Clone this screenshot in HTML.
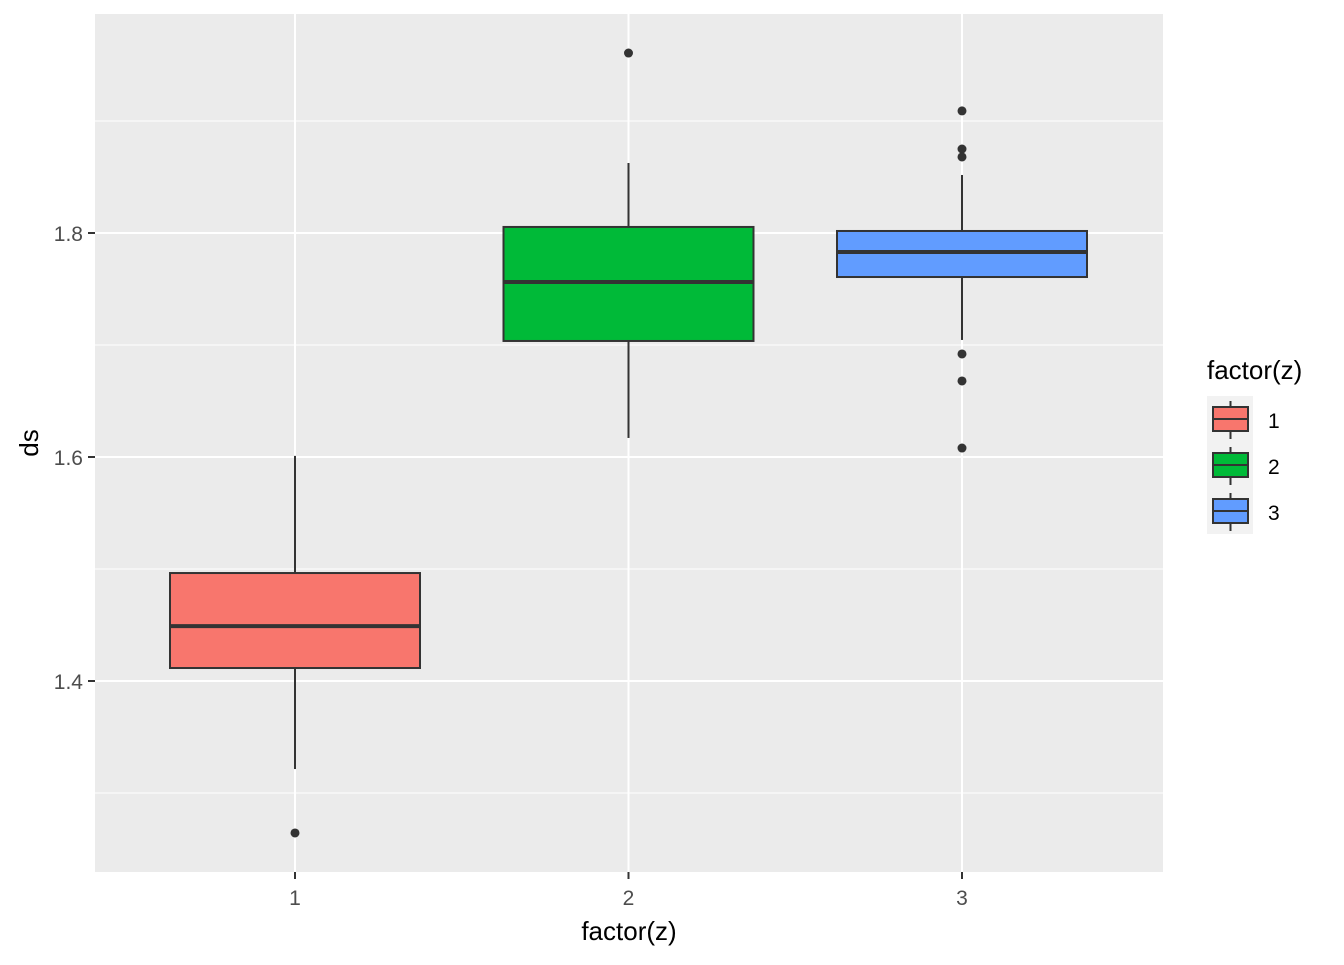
<!DOCTYPE html>
<html><head><meta charset="utf-8"><style>
body{margin:0;background:#fff;}
svg text{font-family:"Liberation Sans",Arial,sans-serif;}
</style></head><body>
<svg id="chart" width="1344" height="960" xmlns="http://www.w3.org/2000/svg">
<rect x="95" y="14" width="1068" height="858" fill="#ebebeb"/>
<g id="grid"></g>
<g id="boxes"></g>
<g id="axes"></g>
<text x="629" y="940" font-size="26" text-anchor="middle" fill="#000">factor(z)</text>
<text transform="translate(38,443) rotate(-90)" font-size="26" text-anchor="middle" fill="#000">ds</text>
<g>
<text x="1207" y="379" font-size="26" fill="#000">factor(z)</text>
<rect x="1207" y="396" width="46" height="138" fill="#f2f2f2"/>
<g id="legend-keys"></g>
</g>
</svg>
<script>
const categories = ["1","2","3"];
const fills = ["#f8766d","#00ba38","#619cff"];
const lowerWhisker = [1.3214, 1.617, 1.7045];
const q1 = [1.4116, 1.7036, 1.7607];
const median = [1.449, 1.7563, 1.783];
const q3 = [1.4964, 1.8054, 1.8018];
const upperWhisker = [1.601, 1.8625, 1.8518];
const outliers = [[1.2643],[1.9607],[1.909,1.875,1.8679,1.692,1.6679,1.608]];
const yTicks = [1.4, 1.6, 1.8];
const yMinor = [1.3, 1.5, 1.7, 1.9];

const NS="http://www.w3.org/2000/svg";
const y = v => 233 + (1.8 - v) * 1120;
const x = i => 295 + i * 333.5;
const boxHalf = 125;
function mk(tag, attrs, parent){const e=document.createElementNS(NS,tag);for(const k in attrs)e.setAttribute(k,attrs[k]);parent.appendChild(e);return e;}
const grid=document.getElementById('grid'), boxes=document.getElementById('boxes'), axes=document.getElementById('axes'), lk=document.getElementById('legend-keys');

yMinor.forEach(v=>{const l=mk('line',{x1:95,x2:1163,y1:y(v),y2:y(v),stroke:'#fff','stroke-width':1},grid);

});
yTicks.forEach(v=>{const l=mk('line',{x1:95,x2:1163,y1:y(v),y2:y(v),stroke:'#fff','stroke-width':2},grid);


const t=mk('line',{x1:88,x2:95,y1:y(v),y2:y(v),stroke:'#333','stroke-width':2},axes);


const tx=mk('text',{x:83,y:y(v)+8,'font-size':21,'text-anchor':'end',fill:'#4d4d4d'},axes);tx.textContent=v.toFixed(1);

});
categories.forEach((c,i)=>{const l=mk('line',{x1:x(i),x2:x(i),y1:14,y2:872,stroke:'#fff','stroke-width':2},grid);


const t=mk('line',{x1:x(i),x2:x(i),y1:872,y2:879,stroke:'#333','stroke-width':2},axes);


const tx=mk('text',{x:x(i),y:905,'font-size':21,'text-anchor':'middle',fill:'#4d4d4d'},axes);tx.textContent=c;



const g=mk('g',{},boxes);


const w=mk('line',{x1:x(i),x2:x(i),y1:y(upperWhisker[i]),y2:y(q3[i]),stroke:'#333','stroke-width':2},g);


const w2=mk('line',{x1:x(i),x2:x(i),y1:y(q1[i]),y2:y(lowerWhisker[i]),stroke:'#333','stroke-width':2},g);


const b=mk('rect',{x:x(i)-boxHalf,y:y(q3[i]),width:boxHalf*2,height:y(q1[i])-y(q3[i]),fill:fills[i],stroke:'#333','stroke-width':2},g);


const m=mk('line',{x1:x(i)-boxHalf,x2:x(i)+boxHalf,y1:y(median[i]),y2:y(median[i]),stroke:'#333','stroke-width':4},g);


outliers[i].forEach(o=>{const p=mk('circle',{cx:x(i),cy:y(o),r:4.5,fill:'#333'},g);

});

const ky=397+i*46, cx=1230.5;
const kg=mk('g',{},lk);


mk('line',{x1:cx,x2:cx,y1:ky+4,y2:ky+42,stroke:'#333','stroke-width':2},kg);
mk('rect',{x:1213,y:ky+10,width:35,height:24,fill:fills[i],stroke:'#333','stroke-width':2},kg);
mk('line',{x1:1213,x2:1248,y1:ky+22,y2:ky+22,stroke:'#333','stroke-width':2},kg);
const lt=mk('text',{x:1268,y:ky+31,'font-size':21,fill:'#000'},kg);lt.textContent=c;
});
</script>
</body></html>
